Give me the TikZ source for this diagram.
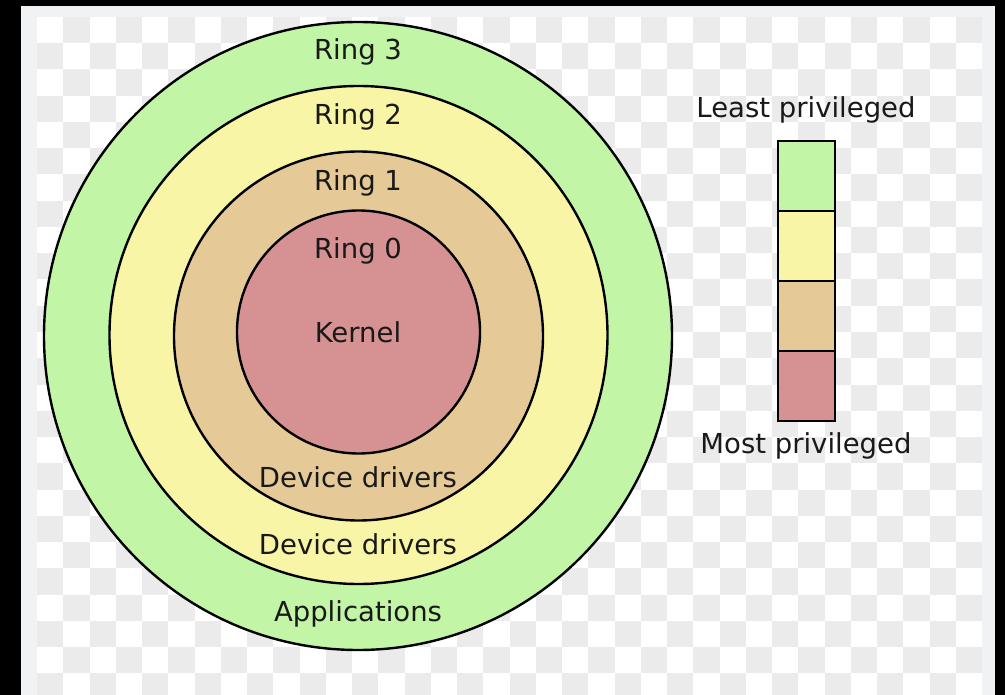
\documentclass[tikz,border=0pt]{standalone}
\usepackage{fontspec}
\setmainfont{DejaVu Sans}
\definecolor{ringthree}{RGB}{194,246,166}
\definecolor{ringtwo}{RGB}{248,245,166}
\definecolor{ringone}{RGB}{229,202,152}
\definecolor{ringzero}{RGB}{214,146,146}
\definecolor{chk}{RGB}{235,235,235}
\definecolor{strip}{RGB}{241,242,243}
\definecolor{txt}{RGB}{25,25,25}
\begin{document}
\begin{tikzpicture}[x=1pt,y=-1pt,
  ring/.style={circle, draw=black, line width=2.4pt, inner sep=0pt, outer sep=0pt},
  lbl/.style={font=\fontsize{27.5}{32}\selectfont, text=txt, anchor=base, inner sep=0pt},
  legbox/.style={rectangle, draw=black, line width=1.8pt, minimum width=57pt, minimum height=70pt, inner sep=0pt, outer sep=0pt}]
\useasboundingbox (0,0) rectangle (1005,695);
\fill[black] (0,0) rectangle (1005,695);
\fill[strip] (21,6) rectangle (995,695);
\begin{scope}
\clip (37,17) rectangle (982,695);
\fill[white] (37,17) rectangle (982,695);
\foreach \i in {0,...,35} {
  \foreach \j in {0,...,26} {
    \pgfmathtruncatemacro{\parity}{mod(\i+\j,2)}
    \ifnum\parity=1
      \fill[chk] ({37+26.25*\i},{17+26.25*\j}) rectangle +(26.25,26.25);
    \fi
  }
}
\end{scope}
% rings
\node[ring, fill=ringthree, minimum size=628pt] (r3) at (358,336) {};
\node[ring, fill=ringtwo, minimum size=498pt] (r2) at (358.5,335) {};
\node[ring, fill=ringone, minimum size=369pt] (r1) at (358.5,336) {};
\node[ring, fill=ringzero, minimum size=243pt] (r0) at (358.5,332) {};
% labels
\node[lbl] (t3) at (358,60) {Ring 3};
\node[lbl] (t2) at (358,125) {Ring 2};
\node[lbl] (t1) at (358,191) {Ring 1};
\node[lbl] (t0) at (358,259) {Ring 0};
\node[lbl] (tk) at (358,343) {Kernel};
\node[lbl] (td1) at (358,487) {Device drivers};
\node[lbl] (td2) at (358,554) {Device drivers};
\node[lbl] (ta) at (358,621) {Applications};
% legend
\node[legbox, fill=ringthree] (l3) at (806.5,176) {};
\node[legbox, fill=ringtwo] (l2) at (806.5,246) {};
\node[legbox, fill=ringone] (l1) at (806.5,316) {};
\node[legbox, fill=ringzero] (l0) at (806.5,386) {};
\node[lbl] (least) at (806,118) {Least privileged};
\node[lbl] (most) at (806,453) {Most privileged};
\end{tikzpicture}
\end{document}
